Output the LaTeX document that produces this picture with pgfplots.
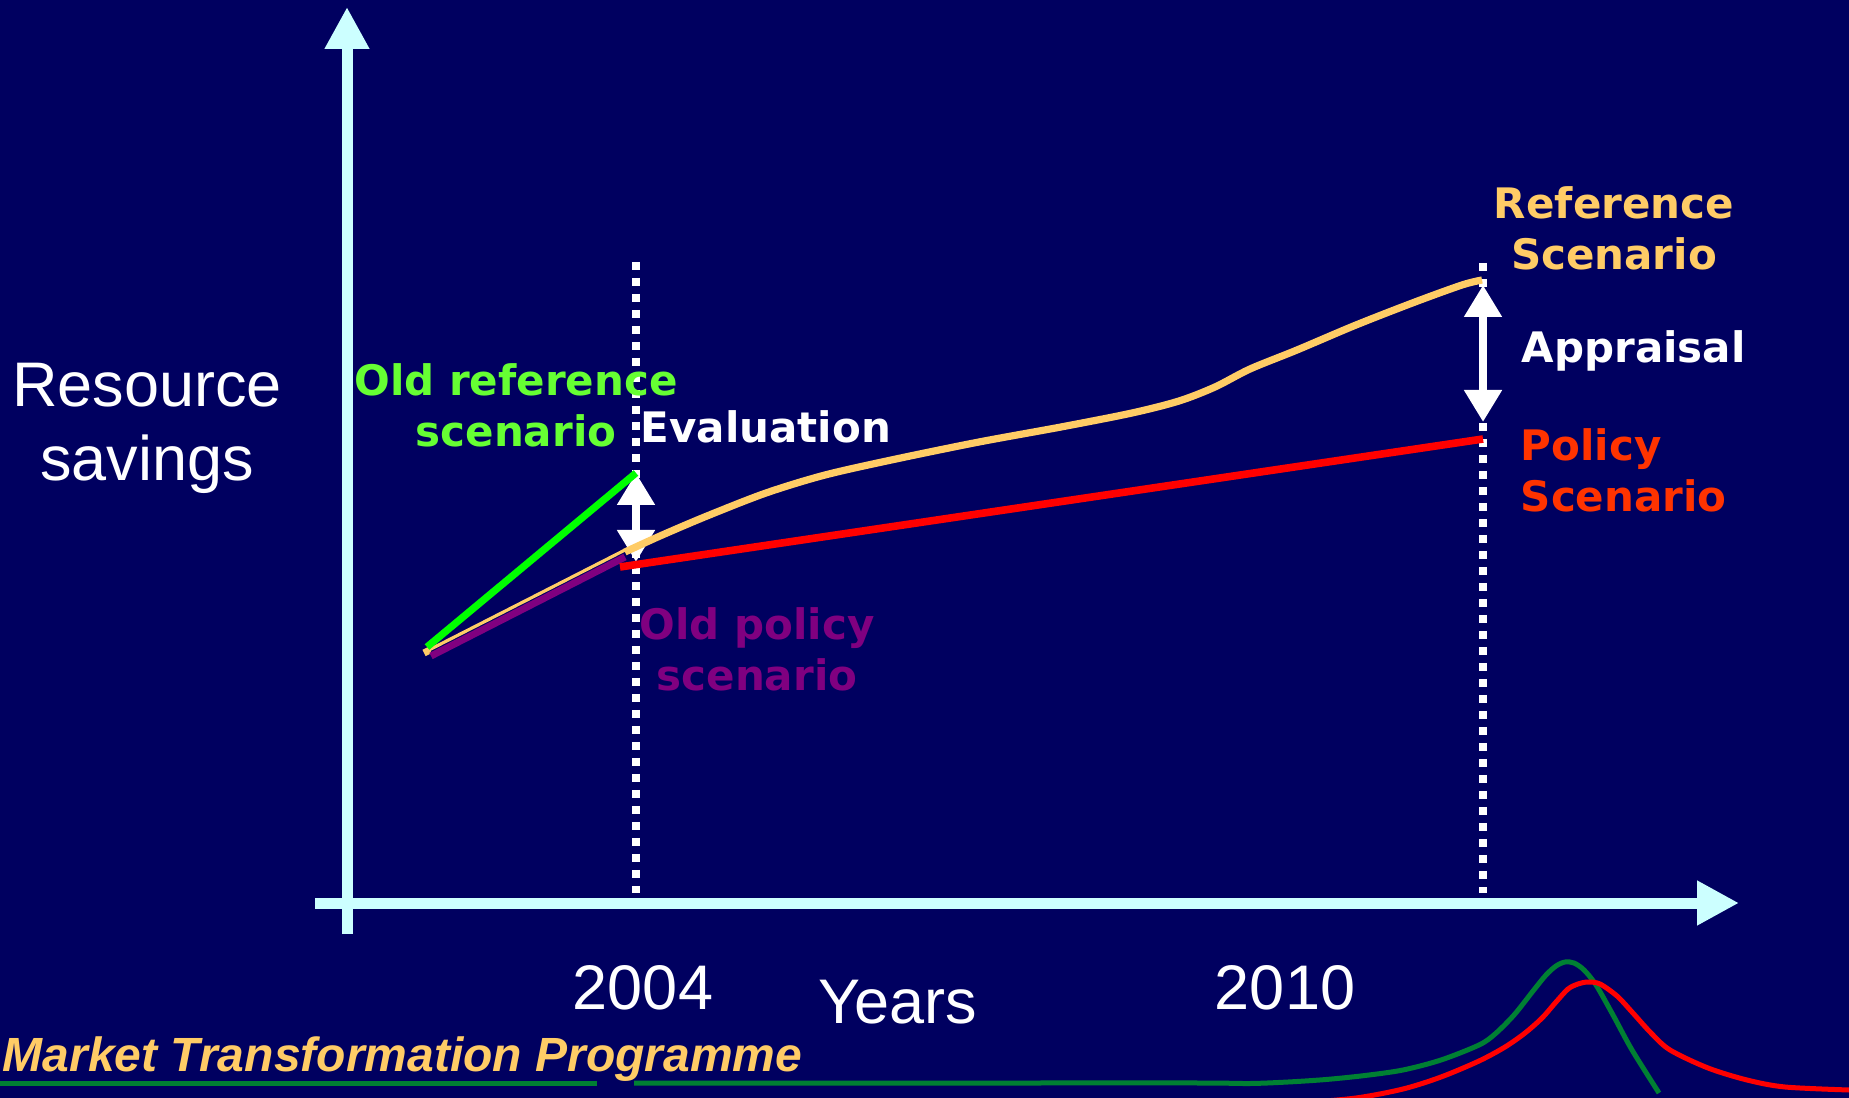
\documentclass[border=0pt]{standalone}
\usepackage{pgfplots}
\pgfplotsset{compat=1.18}
\usepackage{fontspec}
\setmainfont{Liberation Sans}
\newfontfamily\dv{DejaVu Sans}
\usetikzlibrary{arrows.meta}
\definecolor{bg}{RGB}{0,0,96}
\definecolor{axc}{RGB}{204,255,255}
\definecolor{orng}{RGB}{255,204,102}
\definecolor{grn}{RGB}{0,255,0}
\definecolor{grntxt}{RGB}{102,255,51}
\definecolor{purp}{RGB}{128,0,128}
\definecolor{redtxt}{RGB}{255,51,0}
\definecolor{bgreen}{RGB}{0,128,51}
\begin{document}
\begin{tikzpicture}
\begin{axis}[x=0.25pt,y=0.25pt,xmin=0,xmax=1849,ymin=0,ymax=1098,y dir=reverse,
  axis line style={draw=none}, xtick=\empty, ytick=\empty,
  axis background/.style={fill=bg}, clip=true]
% dotted verticals
\addplot[white, line width=2pt, dash pattern=on 2pt off 2pt] coordinates {(636,262) (636,893)};
\addplot[white, line width=2pt, dash pattern=on 2pt off 2pt] coordinates {(1483,263) (1483,893)};
% axes
\addplot[axc, line width=2.75pt, -{Triangle[width=10.5pt,length=10.5pt]}] coordinates {(347,934) (347,7)};
\addplot[axc, line width=2.75pt, -{Triangle[width=10.5pt,length=10.5pt]}] coordinates {(315,903) (1739,903)};
% double arrows
\addplot[white, line width=2pt, {Triangle[width=9pt,length=8pt]}-{Triangle[width=9pt,length=8pt]}] coordinates {(636,473) (636,562)};
\addplot[white, line width=2pt, {Triangle[width=9pt,length=8pt]}-{Triangle[width=9pt,length=8pt]}] coordinates {(1483,285) (1483,422)};
% scenario lines
\addplot[orng, line width=0.8pt] coordinates {(425,652) (625,550)};
\addplot[orng, line width=1.75pt] coordinates {(424,653) (430,650)};
\addplot[purp, line width=1.75pt] coordinates {(431,656) (625,557)};
\addplot[orng, line width=1.8pt, smooth] coordinates {(625,552) (660,536) (707,516) (766,493) (825,475) (896,459) (979,442) (1061,427) (1132,413) (1179,401) (1215,387) (1250,369) (1297,350) (1356,325) (1415,302) (1462,285) (1482,280)};
\addplot[red, line width=1.9pt] coordinates {(620,567) (1483,439)};
\addplot[grn, line width=1.8pt] coordinates {(427,647) (636,473)};
% bottom decoration
\addplot[bgreen, line width=1.25pt] coordinates {(0,1083) (597,1083)};
\addplot[bgreen, line width=1.25pt, smooth] coordinates {(634,1083) (1000,1083) (1200,1083) (1250,1083.5) (1288,1082) (1326,1079.5) (1365,1075.5) (1403,1070) (1441,1060) (1479,1045) (1495,1034) (1514,1015) (1533,991) (1546,975) (1556,966) (1565,962) (1574,963) (1584,970) (1596,985) (1613,1015) (1632,1050) (1659,1093)};
\addplot[red, line width=1.25pt, smooth] coordinates {(1300,1103) (1356,1098) (1403,1089) (1441,1077) (1479,1061) (1505,1047) (1525,1033) (1542,1018) (1556,1002) (1568,989) (1578,984) (1588,982) (1600,984) (1617,996) (1632,1012) (1651,1033) (1670,1050) (1708,1068) (1747,1080) (1785,1087) (1849,1090)};
% texts
\node[white, anchor=base, inner sep=0, font=\fontsize{15.75pt}{18pt}\selectfont] at (axis cs:147,407) {Resource};
\node[white, anchor=base, inner sep=0, font=\fontsize{15.75pt}{18pt}\selectfont] at (axis cs:147,481) {savings};
\node[grntxt, anchor=base, inner sep=0, font=\dv\bfseries\fontsize{10.5pt}{13pt}\selectfont] at (axis cs:516,396) {Old reference};
\node[grntxt, anchor=base, inner sep=0, font=\dv\bfseries\fontsize{10.5pt}{13pt}\selectfont] at (axis cs:516,447) {scenario};
\node[white, anchor=base west, inner sep=0, font=\dv\bfseries\fontsize{10.5pt}{13pt}\selectfont] at (axis cs:640,443) {Evaluation};
\node[purp, anchor=base, inner sep=0, font=\dv\bfseries\fontsize{10.5pt}{13pt}\selectfont] at (axis cs:757,640) {Old policy};
\node[purp, anchor=base, inner sep=0, font=\dv\bfseries\fontsize{10.5pt}{13pt}\selectfont] at (axis cs:757,691) {scenario};
\node[orng, anchor=base, inner sep=0, font=\dv\bfseries\fontsize{10.5pt}{13pt}\selectfont] at (axis cs:1614,219) {Reference};
\node[orng, anchor=base, inner sep=0, font=\dv\bfseries\fontsize{10.5pt}{13pt}\selectfont] at (axis cs:1614,270) {Scenario};
\node[white, anchor=base west, inner sep=0, font=\dv\bfseries\fontsize{10.5pt}{13pt}\selectfont] at (axis cs:1521,363) {Appraisal};
\node[redtxt, anchor=base west, inner sep=0, font=\dv\bfseries\fontsize{10.5pt}{13pt}\selectfont] at (axis cs:1520,461) {Policy};
\node[redtxt, anchor=base west, inner sep=0, font=\dv\bfseries\fontsize{10.5pt}{13pt}\selectfont] at (axis cs:1520,512) {Scenario};
\node[white, anchor=base, inner sep=0, font=\fontsize{15.75pt}{18pt}\selectfont] at (axis cs:643,1009) {2004};
\node[white, anchor=base, inner sep=0, font=\fontsize{15.75pt}{18pt}\selectfont] at (axis cs:1285,1009) {2010};
\node[white, anchor=base, inner sep=0, font=\fontsize{15.75pt}{18pt}\selectfont] at (axis cs:898,1023) {Years};
\node[orng, anchor=base west, inner sep=0, font=\bfseries\itshape\fontsize{12pt}{14pt}\selectfont] at (axis cs:2,1071) {Market Transformation Programme};
\end{axis}
\end{tikzpicture}
\end{document}
